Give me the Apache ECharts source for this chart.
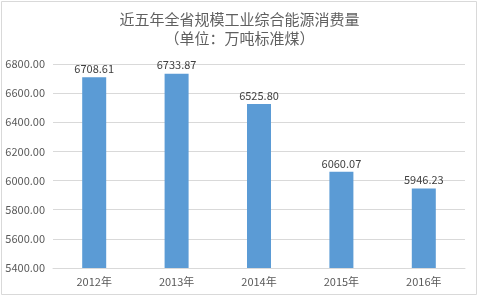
<!DOCTYPE html>
<html><head><meta charset="utf-8">
<script src="https://cdn.jsdelivr.net/npm/echarts@6/dist/echarts.min.js"></script>
<style>html,body{margin:0;padding:0;background:#fff}#c{width:479px;height:297px}</style>
</head><body><div id="c"></div>
<script>
const categories = ['2012年','2013年','2014年','2015年','2016年'];
const values = [6708.61, 6733.87, 6525.80, 6060.07, 5946.23];
const titleLines = ['近五年全省规模工业综合能源消费量','（单位：万吨标准煤）'];
const yMin = 5400, yMax = 6800, yStep = 200;

const chart = echarts.init(document.getElementById('c'), null, {renderer:'canvas'});
const font = '"Noto Sans CJK SC", "DejaVu Sans", sans-serif';
chart.setOption({
  animation:false,
  backgroundColor:'#fff',
  graphic:[{type:'rect',shape:{x:1.5,y:1.5,width:475,height:293},style:{fill:'none',stroke:'#d9d9d9',lineWidth:1},silent:true}],
  title:{
    text: titleLines.join('\n'),
    left:'center', top:5,
    textStyle:{fontSize:15,fontWeight:'normal',color:'#606060',fontFamily:font,lineHeight:19}
  },
  grid:{left:53,right:14,top:64,bottom:29,containLabel:false},
  xAxis:{
    type:'category', data:categories,
    axisLine:{show:true,lineStyle:{color:'#d9d9d9'}},
    axisTick:{show:false},
    axisLabel:{color:'#595959',fontSize:11,fontFamily:font,margin:8}
  },
  yAxis:{
    type:'value', min:yMin, max:yMax, interval:yStep,
    axisLine:{show:false}, axisTick:{show:false},
    splitLine:{lineStyle:{color:'#d9d9d9'}},
    axisLabel:{color:'#595959',fontSize:11,fontFamily:font,margin:8,formatter:v=>v.toFixed(2)}
  },
  series:[{
    type:'bar', data:values, barWidth:24,
    itemStyle:{color:'#5b9bd5'},
    label:{show:true,position:'top',distance:3,color:'#404040',fontSize:11,fontFamily:font,formatter:p=>p.value.toFixed(2)}
  }]
});
</script></body></html>
